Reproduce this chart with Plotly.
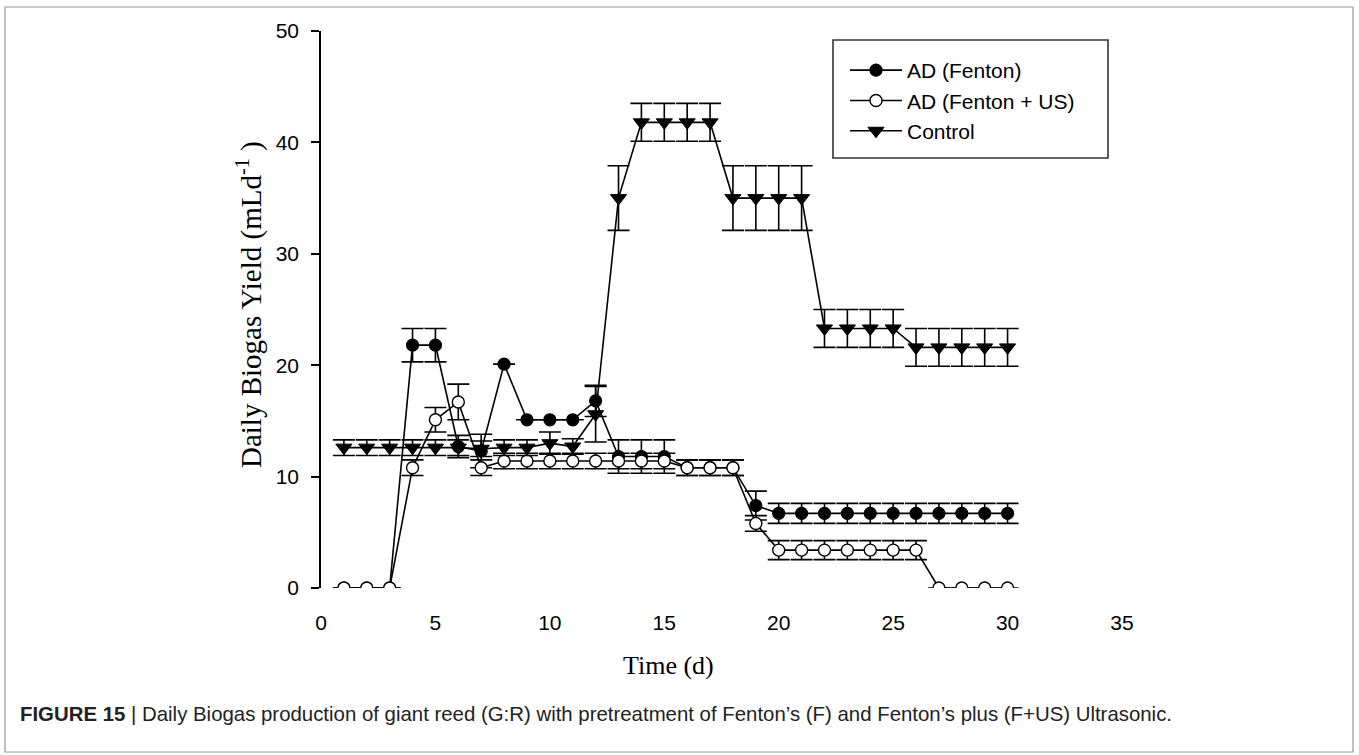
import plotly.graph_objects as go

# ---- data ----
days = list(range(1, 31))

fenton = [0, 0, 0, 21.8, 21.8, 12.7, 12.3, 20.1, 15.1, 15.1,
          15.1, 16.8, 11.8, 11.8, 11.8, 10.8, 10.8, 10.8, 7.4, 6.7,
          6.7, 6.7, 6.7, 6.7, 6.7, 6.7, 6.7, 6.7, 6.7, 6.7]
fenton_err = [0, 0, 0, 1.5, 1.5, 1.0, 1.5, 0, 0, 0,
              0, 1.4, 1.5, 1.5, 1.5, 0.7, 0.7, 0.7, 1.3, 0.9,
              0.9, 0.9, 0.9, 0.9, 0.9, 0.9, 0.9, 0.9, 0.9, 0.9]

fenton_us = [0, 0, 0, 10.8, 15.1, 16.7, 10.8, 11.4, 11.4, 11.4,
             11.4, 11.4, 11.4, 11.4, 11.4, 10.8, 10.8, 10.8, 5.8, 3.4,
             3.4, 3.4, 3.4, 3.4, 3.4, 3.4, 0, 0, 0, 0]
fenton_us_err = [0, 0, 0, 0.7, 1.1, 1.6, 0.7, 0.7, 0.7, 0.7,
                 0.7, 0.7, 0.7, 0.7, 0.7, 0.7, 0.7, 0.7, 0.7, 0.85,
                 0.85, 0.85, 0.85, 0.85, 0.85, 0.85, 0, 0, 0, 0]

control = [12.6, 12.6, 12.6, 12.6, 12.6, 12.6, 12.5, 12.6, 12.6, 13.0,
           12.7, 15.6, 35.0, 41.8, 41.8, 41.8, 41.8, 35.0, 35.0, 35.0,
           35.0, 23.3, 23.3, 23.3, 23.3, 21.6, 21.6, 21.6, 21.6, 21.6]
control_err = [0.7, 0.7, 0.7, 0.7, 0.7, 0.7, 0.7, 0.7, 0.7, 1.0,
               0.7, 2.5, 2.9, 1.7, 1.7, 1.7, 1.7, 2.9, 2.9, 2.9,
               2.9, 1.7, 1.7, 1.7, 1.7, 1.7, 1.7, 1.7, 1.7, 1.7]

series_names = ["AD (Fenton)", "AD (Fenton + US)", "Control"]
x_ticks = [0, 5, 10, 15, 20, 25, 30, 35]
y_ticks = [0, 10, 20, 30, 40, 50]

# ---- layout geometry (pixels) ----
W, H = 1359, 755
L, R, T, B = 321, 1122, 31, 588


def px(xp):
    return (xp - L) / (R - L)


def py(yp):
    return (B - yp) / (B - T)


fig = go.Figure()

err_style = dict(type="data", visible=True, color="black", thickness=1.6, width=11)
line_style = dict(color="black", width=1.6)

fig.add_trace(go.Scatter(
    x=days, y=fenton, name=series_names[0], mode="lines+markers",
    line=line_style,
    marker=dict(symbol="circle", size=12, color="black", line=dict(color="black", width=1.2)),
    error_y=dict(array=fenton_err, **err_style),
))
fig.add_trace(go.Scatter(
    x=days, y=fenton_us, name=series_names[1], mode="lines+markers",
    line=line_style,
    marker=dict(symbol="circle", size=12, color="white", line=dict(color="black", width=1.4)),
    error_y=dict(array=fenton_us_err, **err_style),
))
fig.add_trace(go.Scatter(
    x=days, y=control, name=series_names[2], mode="lines+markers",
    line=line_style,
    marker=dict(symbol="triangle-down", size=14, color="black", line=dict(color="black", width=1)),
    error_y=dict(array=control_err, **err_style),
))

tick_font = dict(family="Liberation Sans, Arial, sans-serif", size=21, color="black")

fig.update_layout(
    width=W, height=H,
    margin=dict(l=L, r=W - R, t=T, b=H - B, pad=0),
    paper_bgcolor="white", plot_bgcolor="white",
    showlegend=True,
    legend=dict(
        x=px(845), y=py(50), xanchor="left", yanchor="top",
        bgcolor="rgba(0,0,0,0)", borderwidth=0,
        font=dict(family="Liberation Sans, Arial, sans-serif", size=21, color="black"),
        itemwidth=52, tracegroupgap=0,
    ),
    xaxis=dict(
        range=[0, 35], tickvals=x_ticks, ticktext=[str(v) for v in x_ticks],
        showline=False, showgrid=False, zeroline=False, ticks="",
        tickfont=tick_font, ticklabelstandoff=20,
    ),
    yaxis=dict(
        range=[0, 50], tickvals=y_ticks, ticktext=[str(v) for v in y_ticks],
        showline=True, linecolor="black", linewidth=1.6,
        showgrid=False, zeroline=False, ticks="outside", ticklen=8,
        tickwidth=1.6, tickcolor="black",
        tickfont=tick_font, ticklabelstandoff=8,
    ),
    annotations=[
        dict(text="Time (d)", xref="paper", yref="paper", x=px(668), y=py(665),
             xanchor="center", yanchor="middle", showarrow=False,
             font=dict(family="Liberation Serif, Times New Roman, serif", size=26, color="black")),
        dict(text="Daily Biogas Yield (mLd<sup>-1</sup> )", xref="paper", yref="paper",
             x=px(249), y=py(305), xanchor="center", yanchor="middle", showarrow=False,
             textangle=-90,
             font=dict(family="Liberation Serif, Times New Roman, serif", size=29, color="black")),
        dict(text="<b>FIGURE 15</b> | Daily Biogas production of giant reed (G:R) with pretreatment of Fenton\u2019s (F) and Fenton\u2019s plus (F+US) Ultrasonic.",
             xref="paper", yref="paper", x=px(18), y=py(714), xanchor="left", yanchor="middle",
             showarrow=False,
             font=dict(family="Liberation Sans, Arial, sans-serif", size=20.4, color="#222222")),
    ],
    shapes=[
        dict(type="rect", xref="paper", yref="paper", x0=px(5), x1=px(1353), y0=py(7), y1=py(752),
             line=dict(color="#999999", width=1.2), fillcolor="rgba(0,0,0,0)", layer="below"),
        dict(type="rect", xref="paper", yref="paper", x0=px(833), x1=px(1108), y0=py(40), y1=py(158),
             line=dict(color="#333333", width=1.6), fillcolor="white", layer="below"),
    ],
)

fig.write_html("out.html")
